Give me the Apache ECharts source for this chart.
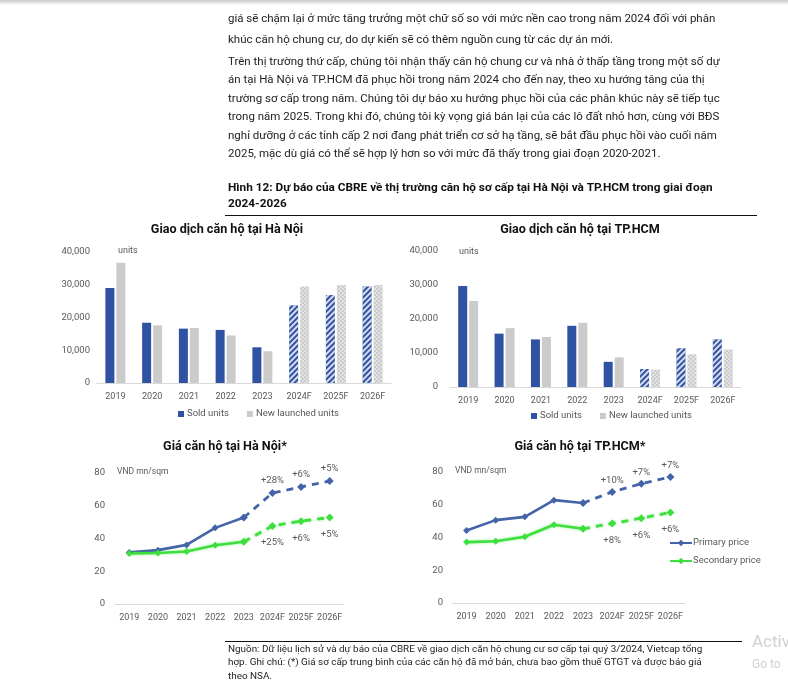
<!DOCTYPE html>
<html><head><meta charset="utf-8">
<script src="https://cdn.jsdelivr.net/npm/echarts@6/dist/echarts.min.js"></script>
<style>html,body{margin:0;padding:0;background:#fff}#c{width:788px;height:695px}</style>
</head><body><div id="c"></div>
<script>
// ---------- data ----------
const years = ['2019','2020','2021','2022','2023','2024F','2025F','2026F'];
const firstForecast = 5;
const hnSold = [29000,18400,16600,16200,10900,23700,26900,29500];
const hnNew = [36700,17600,16800,14500,9700,29500,29900,29900];
const hcmSold = [29700,15700,14000,18000,7400,5300,11400,14000];
const hcmNew = [25300,17300,14700,18900,8700,5100,9600,11000];
const hnPrimary = [31.5,32.9,36.1,46.5,52.8,67.8,71.5,75.1];
const hnSecondary = [30.9,31.1,32.1,35.9,38.0,47.7,50.6,52.8];
const hcmPrimary = [44.3,50.6,52.6,62.8,61.1,67.8,72.9,76.9];
const hcmSecondary = [37.2,37.7,40.5,47.8,45.3,48.6,51.8,55.3];
const hnPrimaryPct = ['','','','','','+28%','+6%','+5%'];
const hnSecondaryPct = ['','','','','','+25%','+6%','+5%'];
const hcmPrimaryPct = ['','','','','','+10%','+7%','+7%'];
const hcmSecondaryPct = ['','','','','','+8%','+6%','+6%'];
const unitsMax = 40000, unitsStep = 10000;
const priceMax = 80, priceStep = 20;

const paragraphLines = [
 'giá sẽ chậm lại ở mức tăng trưởng một chữ số so với mức nền cao trong năm 2024 đối với phân',
 'khúc căn hộ chung cư, do dự kiến sẽ có thêm nguồn cung từ các dự án mới.',
 'Trên thị trường thứ cấp, chúng tôi nhận thấy căn hộ chung cư và nhà ở thấp tầng trong một số dự',
 'án tại Hà Nội và TP.HCM đã phục hồi trong năm 2024 cho đến nay, theo xu hướng tăng của thị',
 'trường sơ cấp trong năm. Chúng tôi dự báo xu hướng phục hồi của các phân khúc này sẽ tiếp tục',
 'trong năm 2025. Trong khi đó, chúng tôi kỳ vọng giá bán lại của các lô đất nhỏ hơn, cùng với BĐS',
 'nghỉ dưỡng ở các tỉnh cấp 2 nơi đang phát triển cơ sở hạ tầng, sẽ bắt đầu phục hồi vào cuối năm',
 '2025, mặc dù giá có thể sẽ hợp lý hơn so với mức đã thấy trong giai đoạn 2020-2021.'
];
const headingLines = [
 'Hình 12: Dự báo của CBRE về thị trường căn hộ sơ cấp tại Hà Nội và TP.HCM trong giai đoạn',
 '2024-2026'
];
const footLines = [
 'Nguồn: Dữ liệu lịch sử và dự báo của CBRE về giao dịch căn hộ chung cư sơ cấp tại quý 3/2024, Vietcap tổng',
 'hợp. Ghi chú: (*) Giá sơ cấp trung bình của các căn hộ đã mở bán, chưa bao gồm thuế GTGT và được báo giá',
 'theo NSA.'
];

// ---------- styles ----------
const BLUE = '#2f52a2', GRAY = '#cbcbcb', LBLUE = '#4463a8', GREEN = '#3ddf3d';
const TXT = '#595959';
const FONT = 'Roboto, "Noto Sans", sans-serif';

const soldDecal = {symbol:'rect', color:'rgba(255,255,255,0.8)', dashArrayX:[1,0], dashArrayY:[1.6,1.6], rotation:-Math.PI/4};
const newDecal = {symbol:'rect', color:'rgba(255,255,255,0.45)', dashArrayX:[[1.5,1.5],[0,1.5,1.5,0]], dashArrayY:[1.5,0], rotation:0};

function barData(vals, decal){
  return vals.map((v,i)=> i>=firstForecast ? {value:v, itemStyle:{decal:decal}} : v);
}
function solidPart(vals){ return vals.map((v,i)=> i<firstForecast ? v : '-'); }
function dashPart(vals){ return vals.map((v,i)=> i>=firstForecast-1 ? v : '-'); }

const grids = [
  {left:97, top:252, width:294, height:131},
  {left:450, top:251, width:291, height:136},
  {left:115, top:473, width:229, height:131},
  {left:452, top:472, width:233, height:131}
];

function xAx(gi){
  return {type:'category', gridIndex:gi, data:years,
    axisLine:{lineStyle:{color:'#d9d9d9'}}, axisTick:{show:false},
    axisLabel:{color:TXT, fontSize:9, fontFamily:FONT, margin:9, interval:0}};
}
function yAx(gi, max, step, margin, fmt){
  return {type:'value', gridIndex:gi, min:0, max:max, interval:step,
    axisLine:{show:false}, axisTick:{show:false}, splitLine:{show:false},
    axisLabel:{color:TXT, fontSize:9.5, fontFamily:FONT, margin:margin, formatter:fmt}};
}
const numFmt = v => v.toLocaleString('en-US');

function barSeries(name, vals, color, decal, gi){
  return {type:'bar', name:name, xAxisIndex:gi, yAxisIndex:gi, data:barData(vals, decal),
    barWidth:9, barGap:'22%', itemStyle:{color:color}, silent:true};
}
function lineSeries(name, vals, color, pct, pos, dist, gi){
  const glow = color===GREEN ? {shadowColor:'rgba(61,223,61,0.5)', shadowBlur:3} : {};
  return [
    {type:'line', name:name, xAxisIndex:gi, yAxisIndex:gi, data:solidPart(vals),
     symbol:'diamond', symbolSize:7, smooth:false,
     lineStyle:Object.assign({color:color, width:2.6}, glow), itemStyle:{color:color}},
    {type:'line', name:name, xAxisIndex:gi, yAxisIndex:gi, data:dashPart(vals),
     symbol:'diamond', symbolSize:8, showSymbol:true,
     lineStyle:Object.assign({color:color, width:2.8, type:[7,6]}, glow), itemStyle:{color:color},
     label:{show:true, position:pos, distance:dist, color:TXT, fontSize:9.5, fontFamily:FONT,
       formatter:p=>pct[p.dataIndex]}}
  ];
}

function txt(text, x, y, size, weight, color){
  return {type:'text', silent:true, style:{text:text, x:x, y:y, fill:color||'#1a1a1a',
    font:(weight||'normal')+' '+size+'px '+FONT, textVerticalAlign:'middle'}};
}

const graphics = [];
graphics.push({type:'rect', silent:true, shape:{x:0,y:0,width:788,height:5},
  style:{fill:new echarts.graphic.LinearGradient(0,0,0,1,[{offset:0,color:'#c8c8c8'},{offset:1,color:'#ffffff'}])}});
const paraY = [19, 40, 62, 80.5, 99, 117.5, 136, 154.5];
paragraphLines.forEach((t,i)=> graphics.push(txt(t, 228, paraY[i], 11.5, 'normal', '#222')));
headingLines.forEach((t,i)=> graphics.push(txt(t, 228, [188,204][i], 11.8, 'bold', '#111')));
graphics.push({type:'line', silent:true, shape:{x1:225,y1:215.5,x2:757,y2:215.5}, style:{stroke:'#111', lineWidth:1}});
graphics.push({type:'line', silent:true, shape:{x1:225,y1:641.5,x2:742,y2:641.5}, style:{stroke:'#111', lineWidth:1}});
footLines.forEach((t,i)=> graphics.push(txt(t, 228, [650,663,677][i], 9.9, 'normal', '#222')));
graphics.push(txt('Activ', 752, 643, 17, 'normal', '#d0d0d0'));
graphics.push(txt('Go to', 752, 665, 12, 'normal', '#d0d0d0'));
graphics.push(txt('units', 118, 251, 9, 'normal', TXT));
graphics.push(txt('units', 459, 252, 9, 'normal', TXT));
graphics.push(txt('VND mn/sqm', 117, 472, 8.5, 'normal', TXT));
graphics.push(txt('VND mn/sqm', 455, 471, 8.5, 'normal', TXT));

const titleStyle = {fontSize:12.6, fontWeight:'bold', color:'#111', fontFamily:FONT};
const chart = echarts.init(document.getElementById('c'), null, {renderer:'canvas'});
const legendBar = (left, top) => ({left:left, top:top, icon:'rect', itemWidth:6, itemHeight:6, itemGap:18,
  selectedMode:false, data:['Sold units','New launched units'],
  textStyle:{color:TXT, fontSize:9.5, fontFamily:FONT, padding:[0,0,0,-2]}});
chart.setOption({
  animation:false,
  backgroundColor:'#fff',
  title:[
    {text:'Giao dịch căn hộ tại Hà Nội', left:227, top:230, textAlign:'center', textVerticalAlign:'middle', textStyle:titleStyle, padding:0},
    {text:'Giao dịch căn hộ tại TP.HCM', left:580, top:230, textAlign:'center', textVerticalAlign:'middle', textStyle:titleStyle, padding:0},
    {text:'Giá căn hộ tại Hà Nội*', left:225, top:447, textAlign:'center', textVerticalAlign:'middle', textStyle:titleStyle, padding:0},
    {text:'Giá căn hộ tại TP.HCM*', left:580, top:447, textAlign:'center', textVerticalAlign:'middle', textStyle:titleStyle, padding:0}
  ],
  legend:[
    legendBar(173, 404),
    legendBar(526, 406),
    {left:664, top:533, orient:'vertical', itemGap:8, itemWidth:22, itemHeight:8, selectedMode:false,
     data:['Primary price','Secondary price'], textStyle:{color:TXT, fontSize:9.5, fontFamily:FONT, padding:[0,0,0,-4]}}
  ],
  grid:grids,
  xAxis:[xAx(0),xAx(1),xAx(2),xAx(3)],
  yAxis:[yAx(0,unitsMax,unitsStep,7,numFmt), yAx(1,unitsMax,unitsStep,12,numFmt),
         yAx(2,priceMax,priceStep,10), yAx(3,priceMax,priceStep,9)],
  series:[
    barSeries('Sold units', hnSold, BLUE, soldDecal, 0),
    barSeries('New launched units', hnNew, GRAY, newDecal, 0),
    barSeries('Sold units', hcmSold, BLUE, soldDecal, 1),
    barSeries('New launched units', hcmNew, GRAY, newDecal, 1),
    ...lineSeries('Primary price', hnPrimary, LBLUE, hnPrimaryPct, 'top', 3, 2),
    ...lineSeries('Secondary price', hnSecondary, GREEN, hnSecondaryPct, 'bottom', 8, 2),
    ...lineSeries('Primary price', hcmPrimary, LBLUE, hcmPrimaryPct, 'top', 2, 3),
    ...lineSeries('Secondary price', hcmSecondary, GREEN, hcmSecondaryPct, 'bottom', 8, 3)
  ],
  graphic:graphics
});
</script>
</body></html>
